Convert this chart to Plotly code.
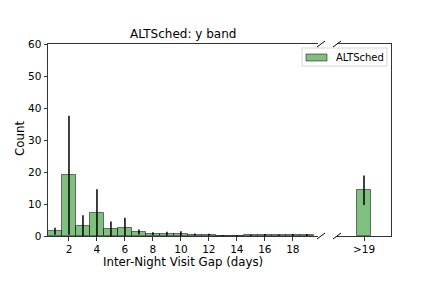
import plotly.graph_objects as go
from plotly.subplots import make_subplots

gap_days = [1, 2, 3, 4, 5, 6, 7, 8, 9, 10, 11, 12, 13, 14, 15, 16, 17, 18, 19]
counts = [1.5, 19.0, 3.0, 7.2, 2.1, 2.5, 1.25, 0.7, 0.7, 0.7, 0.45, 0.4, 0.15, 0.1, 0.2, 0.3, 0.2, 0.3, 0.3]
errors = [1.1, 18.6, 3.5, 7.4, 2.4, 3.2, 0.8, 0.5, 0.6, 0.8, 0.3, 0.3, 0.2, 0.2, 0.2, 0.3, 0.2, 0.3, 0.3]
over_label = [">19"]
over_count = [14.3]
over_error = [4.6]
series_name = "ALTSched"

W, H = 423, 282
L, R1, L2, R2 = 48, 318, 337, 391
TOP, BOT = 44, 236

fill = "rgba(0,128,0,0.5)"
edge = "rgba(0,0,0,0.5)"
font = "DejaVu Sans"

fig = make_subplots(rows=1, cols=2, shared_yaxes=False)

fig.add_trace(go.Bar(
    x=gap_days, y=counts, width=1, name=series_name,
    marker=dict(color=fill, line=dict(color=edge, width=1)),
    error_y=dict(type="data", array=errors, color="black", thickness=1.5, width=0),
    showlegend=False), row=1, col=1)
fig.add_trace(go.Bar(
    x=[20], y=over_count, width=1, name=series_name,
    marker=dict(color=fill, line=dict(color=edge, width=1)),
    error_y=dict(type="data", array=over_error, color="black", thickness=1.5, width=0),
    showlegend=False), row=1, col=2)

axcol = "#333333"
common = dict(showline=True, linecolor=axcol, linewidth=1, ticks="outside", ticklen=3.5,
              tickcolor=axcol, showgrid=False, zeroline=False, automargin=False,
              tickfont=dict(family=font, size=10.5, color="black"))

fig.update_layout(
    width=W, height=H, plot_bgcolor="white", paper_bgcolor="white",
    margin=dict(l=0, r=0, t=0, b=0, autoexpand=False),
    font=dict(family=font, color="black"),
    bargap=0,
    showlegend=False,
    xaxis=dict(domain=[L / W, R1 / W], range=[0.5, 19.8], tickvals=list(range(2, 19, 2)),
               mirror=True, anchor="y", **common),
    yaxis=dict(domain=[1 - BOT / H, 1 - TOP / H], range=[0, 60], dtick=10, anchor="x",
               mirror=False, **common),
    xaxis2=dict(domain=[L2 / W, R2 / W], range=[18.07, 21.93], tickvals=[20], ticktext=over_label,
                mirror=True, anchor="y2", **common),
    yaxis2=dict(domain=[1 - BOT / H, 1 - TOP / H], range=[0, 60], anchor="x2", side="right",
                showline=True, linecolor=axcol, linewidth=1, showticklabels=False, ticks="",
                showgrid=False, zeroline=False, automargin=False),
)

def px(x):
    return x / W

def py(y):
    return 1 - y / H

fig.add_annotation(text="ALTSched: y band", x=px((L + R1) / 2), y=py(34), xref="paper", yref="paper",
                   showarrow=False, font=dict(family=font, size=12), yanchor="middle")
fig.add_annotation(text="Inter-Night Visit Gap (days)", x=px((L + R1) / 2), y=py(262),
                   xref="paper", yref="paper", showarrow=False, font=dict(family=font, size=11.8),
                   yanchor="middle")
fig.add_annotation(text="Count", x=px(20), y=py(139), xref="paper", yref="paper", textangle=-90,
                   showarrow=False, font=dict(family=font, size=11.8), xanchor="center", yanchor="middle")

# legend (manual, matplotlib style)
fig.add_shape(type="rect", xref="paper", yref="paper", x0=px(302), x1=px(387), y0=py(66), y1=py(48),
              line=dict(color="#d6d6d6", width=1), fillcolor="rgba(255,255,255,0.8)")
fig.add_shape(type="rect", xref="paper", yref="paper", x0=px(306), x1=px(327), y0=py(61), y1=py(54),
              line=dict(color=edge, width=1), fillcolor=fill)
fig.add_annotation(text=series_name, x=px(334), y=py(57.5), xref="paper", yref="paper",
                   showarrow=False, xanchor="left", yanchor="middle", font=dict(family=font, size=10))

# broken-axis diagonal marks
for xc in (R1 + 3, L2):
    for yc in (TOP, BOT):
        fig.add_shape(type="line", xref="paper", yref="paper",
                      x0=px(xc - 4), x1=px(xc + 4), y0=py(yc + 3), y1=py(yc - 3),
                      line=dict(color="black", width=1))

fig.write_html("out.html", config={"displayModeBar": False},
               post_script="document.body.style.margin='0';document.body.style.padding='0';")
